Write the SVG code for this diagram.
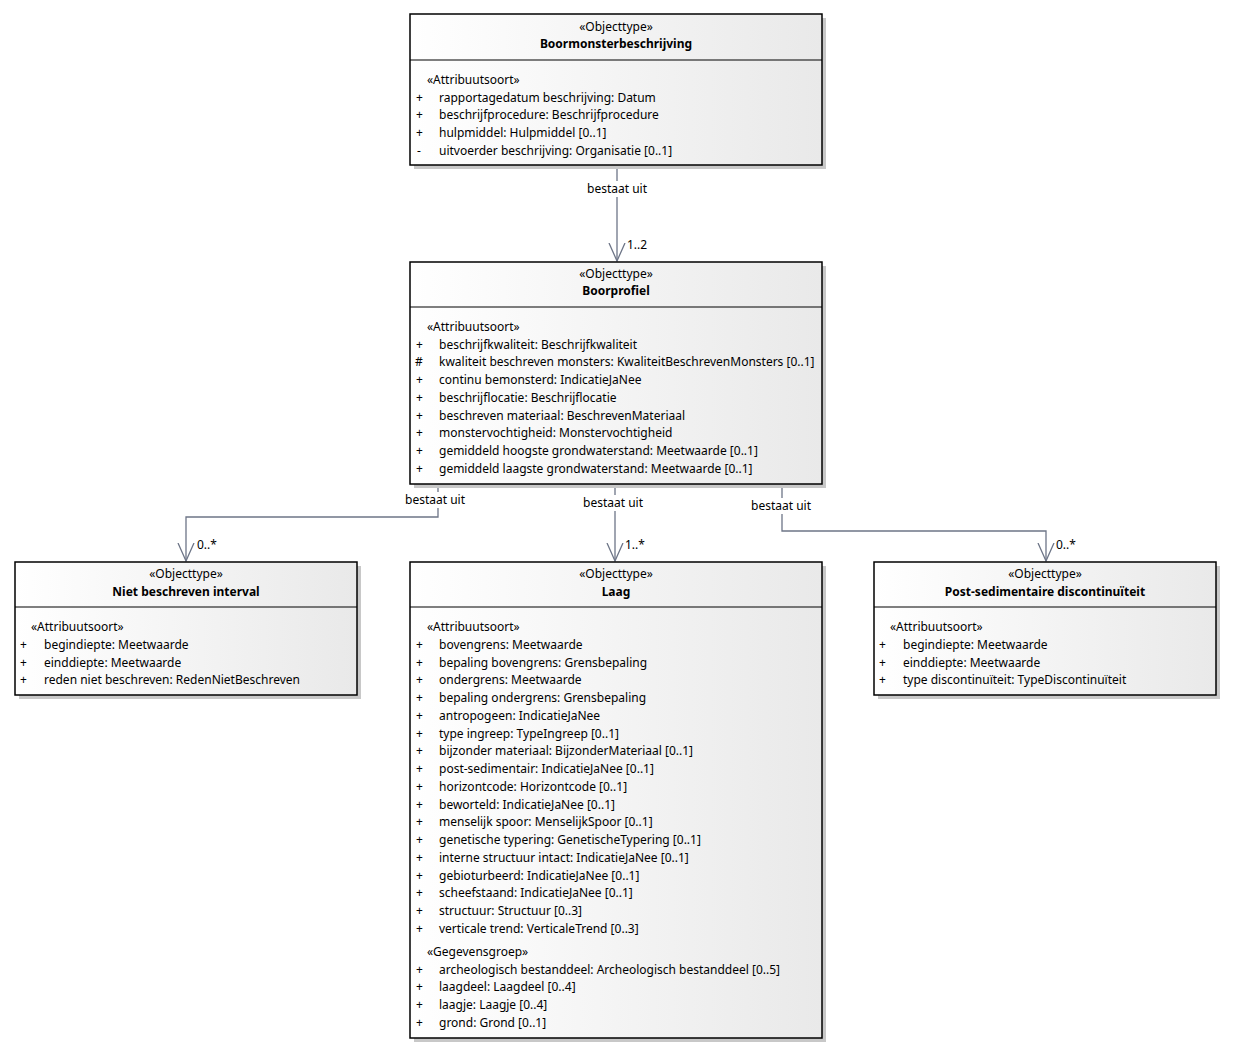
<svg xmlns="http://www.w3.org/2000/svg" width="1236" height="1056" viewBox="0 0 1236 1056">
<style>
text{font-family:"Noto Sans","Liberation Sans",Arial,sans-serif;font-size:12px;fill:#000}
.c{text-anchor:middle}
.b{font-weight:bold}
.box{fill:url(#g);stroke:#000;stroke-width:1.5}
.sh{fill:#c8c8c8}
.div{stroke:#000;stroke-width:1}
.ln{fill:none;stroke:#6d7587;stroke-width:1.3}
.lbg{fill:#fff}
</style>
<defs>
<linearGradient id="g" x1="0" y1="0" x2="1" y2="0">
<stop offset="0" stop-color="#ffffff"/>
<stop offset="1" stop-color="#e9e9e9"/>
</linearGradient>
<marker id="arr" viewBox="0 0 20 20" refX="18" refY="10" markerWidth="20" markerHeight="20" markerUnits="userSpaceOnUse" orient="auto">
<path d="M0,2 L18,10 L0,18" fill="none" stroke="#6d7587" stroke-width="1.3"/>
</marker>
</defs>

<g id="connectors">
<path class="ln" d="M617,165 V261" marker-end="url(#arr)"/>
<rect class="lbg" x="584" y="181" width="67" height="16"/>
<text class="c" x="617" y="193">bestaat uit</text>
<text x="627" y="249">1..2</text>

<path class="ln" d="M438,484 V517 H186 V561" marker-end="url(#arr)"/>
<rect class="lbg" x="402" y="492" width="67" height="16"/>
<text class="c" x="435" y="504">bestaat uit</text>
<text x="197" y="549">0..*</text>

<path class="ln" d="M615,484 V561" marker-end="url(#arr)"/>
<rect class="lbg" x="580" y="495" width="67" height="16"/>
<text class="c" x="613" y="507">bestaat uit</text>
<text x="625" y="549">1..*</text>

<path class="ln" d="M782,484 V531 H1046 V561" marker-end="url(#arr)"/>
<rect class="lbg" x="748" y="498" width="67" height="16"/>
<text class="c" x="781" y="510">bestaat uit</text>
<text x="1056" y="549">0..*</text>
</g>

<g id="boormonsterbeschrijving">
<rect class="sh" x="414" y="18" width="412" height="151"/>
<rect class="box" x="410" y="14" width="412" height="151"/>
<line class="div" x1="410" y1="60" x2="822" y2="60"/>
<text class="c" x="616" y="31">«Objecttype»</text>
<text class="c b" x="616" y="48">Boormonsterbeschrijving</text>
<text x="427" y="84">«Attribuutsoort»</text>
<text x="416" y="102">+</text><text x="439" y="102">rapportagedatum beschrijving: Datum</text>
<text x="416" y="119">+</text><text x="439" y="119">beschrijfprocedure: Beschrijfprocedure</text>
<text x="416" y="137">+</text><text x="439" y="137">hulpmiddel: Hulpmiddel [0..1]</text>
<text x="417" y="155">-</text><text x="439" y="155">uitvoerder beschrijving: Organisatie [0..1]</text>
</g>

<g id="boorprofiel">
<rect class="sh" x="414" y="266" width="412" height="222"/>
<rect class="box" x="410" y="262" width="412" height="222"/>
<line class="div" x1="410" y1="307" x2="822" y2="307"/>
<text class="c" x="616" y="278">«Objecttype»</text>
<text class="c b" x="616" y="295">Boorprofiel</text>
<text x="427" y="331">«Attribuutsoort»</text>
<text x="416" y="349">+</text><text x="439" y="349">beschrijfkwaliteit: Beschrijfkwaliteit</text>
<text x="415" y="366">#</text><text x="439" y="366">kwaliteit beschreven monsters: KwaliteitBeschrevenMonsters [0..1]</text>
<text x="416" y="384">+</text><text x="439" y="384">continu bemonsterd: IndicatieJaNee</text>
<text x="416" y="402">+</text><text x="439" y="402">beschrijflocatie: Beschrijflocatie</text>
<text x="416" y="420">+</text><text x="439" y="420">beschreven materiaal: BeschrevenMateriaal</text>
<text x="416" y="437">+</text><text x="439" y="437">monstervochtigheid: Monstervochtigheid</text>
<text x="416" y="455">+</text><text x="439" y="455">gemiddeld hoogste grondwaterstand: Meetwaarde [0..1]</text>
<text x="416" y="473">+</text><text x="439" y="473">gemiddeld laagste grondwaterstand: Meetwaarde [0..1]</text>
</g>

<g id="niet-beschreven-interval">
<rect class="sh" x="19" y="566" width="342" height="133"/>
<rect class="box" x="15" y="562" width="342" height="133"/>
<line class="div" x1="15" y1="607" x2="357" y2="607"/>
<text class="c" x="186" y="578">«Objecttype»</text>
<text class="c b" x="186" y="596">Niet beschreven interval</text>
<text x="31" y="631">«Attribuutsoort»</text>
<text x="20" y="649">+</text><text x="44" y="649">begindiepte: Meetwaarde</text>
<text x="20" y="667">+</text><text x="44" y="667">einddiepte: Meetwaarde</text>
<text x="20" y="684">+</text><text x="44" y="684">reden niet beschreven: RedenNietBeschreven</text>
</g>

<g id="laag">
<rect class="sh" x="414" y="566" width="412" height="476"/>
<rect class="box" x="410" y="562" width="412" height="476"/>
<line class="div" x1="410" y1="607" x2="822" y2="607"/>
<text class="c" x="616" y="578">«Objecttype»</text>
<text class="c b" x="616" y="596">Laag</text>
<text x="427" y="631">«Attribuutsoort»</text>
<text x="416" y="649">+</text><text x="439" y="649">bovengrens: Meetwaarde</text>
<text x="416" y="667">+</text><text x="439" y="667">bepaling bovengrens: Grensbepaling</text>
<text x="416" y="684">+</text><text x="439" y="684">ondergrens: Meetwaarde</text>
<text x="416" y="702">+</text><text x="439" y="702">bepaling ondergrens: Grensbepaling</text>
<text x="416" y="720">+</text><text x="439" y="720">antropogeen: IndicatieJaNee</text>
<text x="416" y="738">+</text><text x="439" y="738">type ingreep: TypeIngreep [0..1]</text>
<text x="416" y="755">+</text><text x="439" y="755">bijzonder materiaal: BijzonderMateriaal [0..1]</text>
<text x="416" y="773">+</text><text x="439" y="773">post-sedimentair: IndicatieJaNee [0..1]</text>
<text x="416" y="791">+</text><text x="439" y="791">horizontcode: Horizontcode [0..1]</text>
<text x="416" y="809">+</text><text x="439" y="809">beworteld: IndicatieJaNee [0..1]</text>
<text x="416" y="826">+</text><text x="439" y="826">menselijk spoor: MenselijkSpoor [0..1]</text>
<text x="416" y="844">+</text><text x="439" y="844">genetische typering: GenetischeTypering [0..1]</text>
<text x="416" y="862">+</text><text x="439" y="862">interne structuur intact: IndicatieJaNee [0..1]</text>
<text x="416" y="880">+</text><text x="439" y="880">gebioturbeerd: IndicatieJaNee [0..1]</text>
<text x="416" y="897">+</text><text x="439" y="897">scheefstaand: IndicatieJaNee [0..1]</text>
<text x="416" y="915">+</text><text x="439" y="915">structuur: Structuur [0..3]</text>
<text x="416" y="933">+</text><text x="439" y="933">verticale trend: VerticaleTrend [0..3]</text>
<text x="427" y="956">«Gegevensgroep»</text>
<text x="416" y="974">+</text><text x="439" y="974">archeologisch bestanddeel: Archeologisch bestanddeel [0..5]</text>
<text x="416" y="991">+</text><text x="439" y="991">laagdeel: Laagdeel [0..4]</text>
<text x="416" y="1009">+</text><text x="439" y="1009">laagje: Laagje [0..4]</text>
<text x="416" y="1027">+</text><text x="439" y="1027">grond: Grond [0..1]</text>
</g>

<g id="post-sedimentaire-discontinuiteit">
<rect class="sh" x="878" y="566" width="342" height="133"/>
<rect class="box" x="874" y="562" width="342" height="133"/>
<line class="div" x1="874" y1="607" x2="1216" y2="607"/>
<text class="c" x="1045" y="578">«Objecttype»</text>
<text class="c b" x="1045" y="596">Post-sedimentaire discontinuïteit</text>
<text x="890" y="631">«Attribuutsoort»</text>
<text x="879" y="649">+</text><text x="903" y="649">begindiepte: Meetwaarde</text>
<text x="879" y="667">+</text><text x="903" y="667">einddiepte: Meetwaarde</text>
<text x="879" y="684">+</text><text x="903" y="684">type discontinuïteit: TypeDiscontinuïteit</text>
</g>
</svg>
